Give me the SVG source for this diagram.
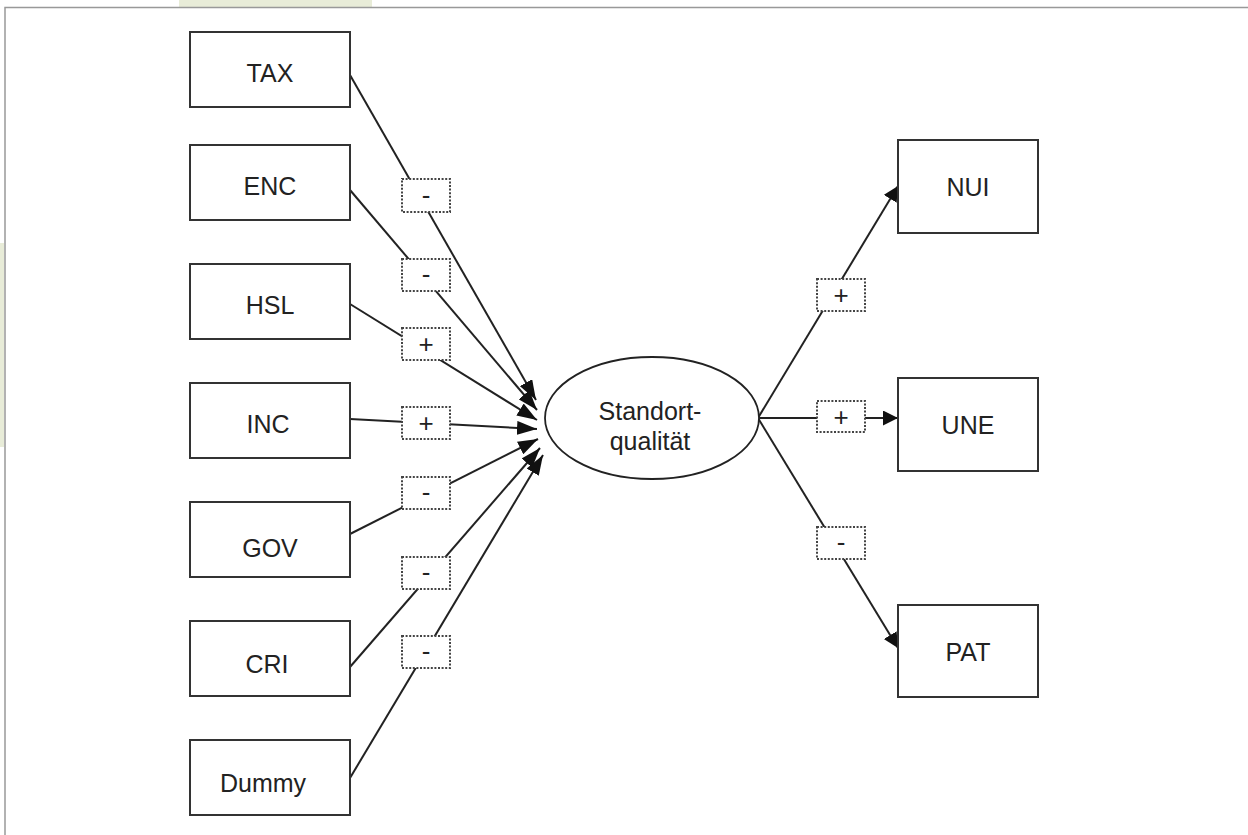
<svg xmlns="http://www.w3.org/2000/svg" width="1248" height="835" viewBox="0 0 1248 835">
<style>
.box{fill:#fff;stroke:#333;stroke-width:2}
.lbl{fill:#fff;stroke:#444;stroke-width:2;stroke-dasharray:2 1.6}
.t{font-family:"Liberation Sans",Arial,sans-serif;font-size:25px;fill:#222;text-anchor:middle}
.s{font-family:"Liberation Sans",Arial,sans-serif;font-size:26px;fill:#222;text-anchor:middle}
.ln{stroke:#222;stroke-width:2;fill:none}
</style>
<defs>
<marker id="al" markerUnits="userSpaceOnUse" markerWidth="22" markerHeight="14" refX="20" refY="7" orient="auto"><path d="M0,0 L20,7 L0,14 z" fill="#111"/></marker>
<marker id="ar" markerUnits="userSpaceOnUse" markerWidth="16" markerHeight="16" refX="15" refY="7.5" orient="auto"><path d="M0,0 L15,7.5 L0,15 z" fill="#111"/></marker>
</defs>
<rect width="1248" height="835" fill="#fff"/>
<rect x="179" y="0" width="193" height="7" fill="#e8ecd8"/>
<rect x="0" y="243" width="4" height="204" fill="#e8ecd8"/>
<path d="M5,835 V7.5 H1248" fill="none" stroke="#999" stroke-width="1.5"/>

<g id="connectors">
<line class="ln" x1="350" y1="75" x2="536" y2="400" marker-end="url(#al)"/>
<line class="ln" x1="350" y1="190" x2="537" y2="410" marker-end="url(#al)"/>
<line class="ln" x1="350" y1="304" x2="537" y2="420" marker-end="url(#al)"/>
<line class="ln" x1="350" y1="419" x2="537" y2="429" marker-end="url(#al)"/>
<line class="ln" x1="350" y1="534" x2="538" y2="439" marker-end="url(#al)"/>
<line class="ln" x1="350" y1="667" x2="540" y2="448" marker-end="url(#al)"/>
<line class="ln" x1="350" y1="778" x2="543" y2="455" marker-end="url(#al)"/>
<line class="ln" x1="758" y1="418" x2="898" y2="186" marker-end="url(#ar)"/>
<line class="ln" x1="758" y1="418" x2="898" y2="418" marker-end="url(#ar)"/>
<line class="ln" x1="758" y1="418" x2="898" y2="648" marker-end="url(#ar)"/>
</g>

<g id="labels">
<rect class="lbl" x="402" y="179" width="48" height="33"/><text class="s" x="426" y="204">-</text>
<rect class="lbl" x="402" y="259" width="48" height="32"/><text class="s" x="426" y="283">-</text>
<rect class="lbl" x="402" y="328" width="48" height="32"/><text class="s" x="426" y="353">+</text>
<rect class="lbl" x="402" y="407" width="48" height="32"/><text class="s" x="426" y="432">+</text>
<rect class="lbl" x="402" y="477" width="48" height="32"/><text class="s" x="426" y="501">-</text>
<rect class="lbl" x="402" y="557" width="48" height="32"/><text class="s" x="426" y="581">-</text>
<rect class="lbl" x="402" y="636" width="48" height="32"/><text class="s" x="426" y="660">-</text>
<rect class="lbl" x="817" y="279" width="48" height="32"/><text class="s" x="841" y="304">+</text>
<rect class="lbl" x="817" y="401" width="48" height="31"/><text class="s" x="841" y="426">+</text>
<rect class="lbl" x="817" y="527" width="48" height="32"/><text class="s" x="841" y="551">-</text>
</g>

<g id="TAX"><rect class="box" x="190" y="32" width="160" height="75"/><text class="t" x="270" y="82">TAX</text></g>
<g id="ENC"><rect class="box" x="190" y="145" width="160" height="75"/><text class="t" x="270" y="195">ENC</text></g>
<g id="HSL"><rect class="box" x="190" y="264" width="160" height="75"/><text class="t" x="270" y="314">HSL</text></g>
<g id="INC"><rect class="box" x="190" y="383" width="160" height="75"/><text class="t" x="268" y="433">INC</text></g>
<g id="GOV"><rect class="box" x="190" y="502" width="160" height="75"/><text class="t" x="270" y="557">GOV</text></g>
<g id="CRI"><rect class="box" x="190" y="621" width="160" height="75"/><text class="t" x="267" y="673">CRI</text></g>
<g id="Dummy"><rect class="box" x="190" y="740" width="160" height="75"/><text class="t" x="263" y="792">Dummy</text></g>

<g id="Standortqualitaet"><ellipse cx="652" cy="418" rx="107" ry="61" fill="#fff" stroke="#222" stroke-width="1.8"/><text class="t" x="650" y="420">Standort-</text><text class="t" x="650" y="450">qualität</text></g>

<g id="NUI"><rect class="box" x="898" y="140" width="140" height="93"/><text class="t" x="968" y="196">NUI</text></g>
<g id="UNE"><rect class="box" x="898" y="378" width="140" height="93"/><text class="t" x="968" y="434">UNE</text></g>
<g id="PAT"><rect class="box" x="898" y="605" width="140" height="92"/><text class="t" x="968" y="661">PAT</text></g>
</svg>
